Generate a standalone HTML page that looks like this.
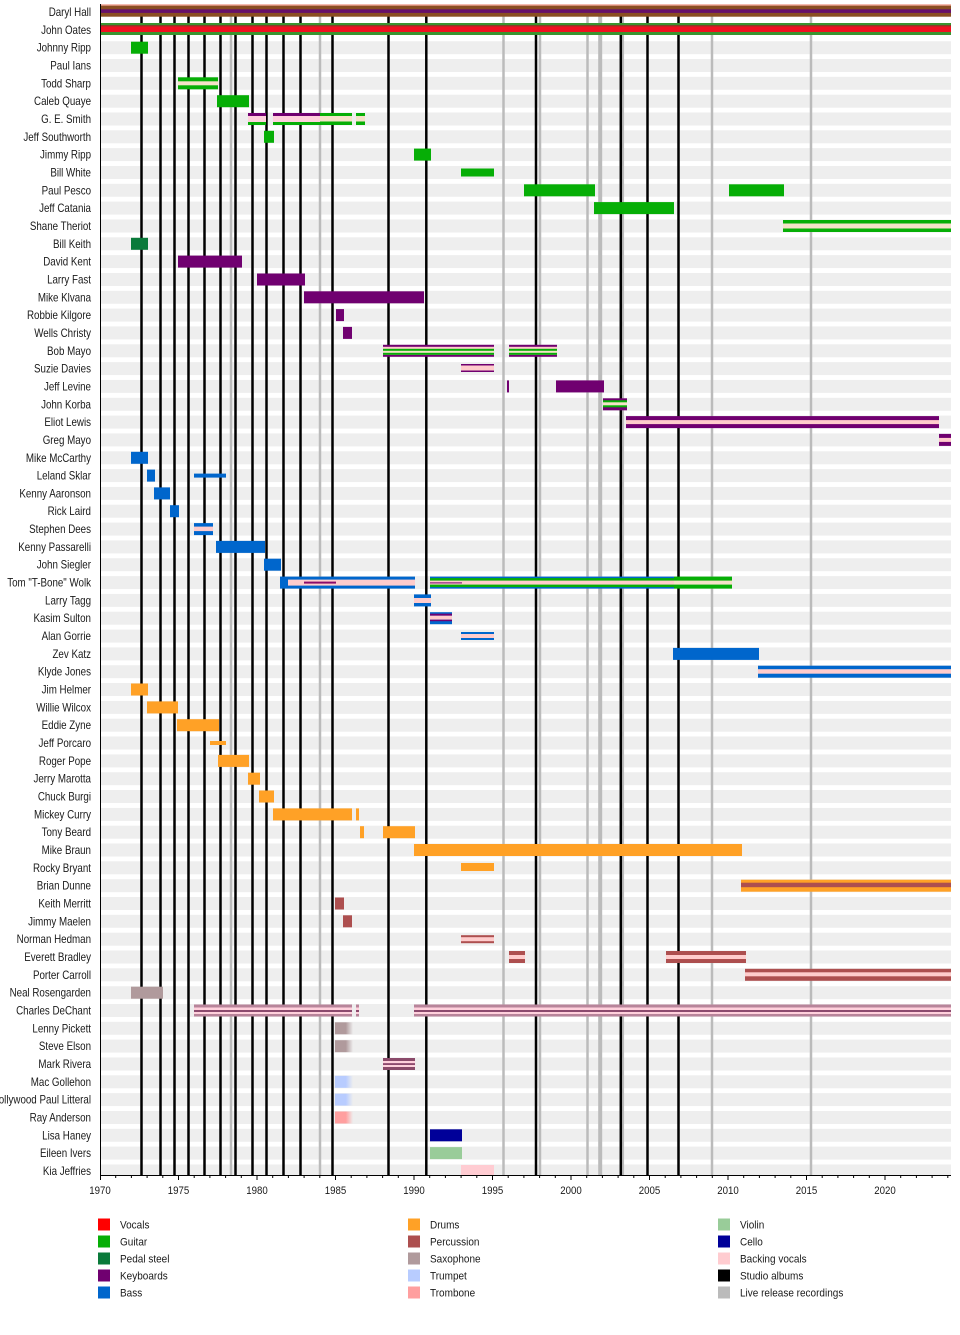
<!DOCTYPE html>
<html><head><meta charset="utf-8"><style>html,body{margin:0;padding:0;background:#fff}svg{display:block}</style></head>
<body>
<svg xmlns="http://www.w3.org/2000/svg" width="960" height="1335" viewBox="0 0 960 1335">
<defs>
<linearGradient id="fS"><stop offset="0" stop-color="#b09a9c"/><stop offset="0.6" stop-color="#b09a9c"/><stop offset="1" stop-color="#b09a9c" stop-opacity="0"/></linearGradient>
<linearGradient id="fT"><stop offset="0" stop-color="#b8ccff"/><stop offset="0.6" stop-color="#b8ccff"/><stop offset="1" stop-color="#b8ccff" stop-opacity="0"/></linearGradient>
<linearGradient id="fTB"><stop offset="0" stop-color="#ff9f9f"/><stop offset="0.6" stop-color="#ff9f9f"/><stop offset="1" stop-color="#ff9f9f" stop-opacity="0"/></linearGradient>
</defs>
<rect width="960" height="1335" fill="#fff"/>
<g fill="#eeeeee">
<rect x="100" y="41.2" width="851" height="13"/><rect x="100" y="59.0" width="851" height="13"/><rect x="100" y="76.8" width="851" height="13"/><rect x="100" y="94.7" width="851" height="13"/><rect x="100" y="112.5" width="851" height="13"/><rect x="100" y="130.3" width="851" height="13"/><rect x="100" y="148.1" width="851" height="13"/><rect x="100" y="166.0" width="851" height="13"/><rect x="100" y="183.8" width="851" height="13"/><rect x="100" y="201.6" width="851" height="13"/><rect x="100" y="219.5" width="851" height="13"/><rect x="100" y="237.3" width="851" height="13"/><rect x="100" y="255.1" width="851" height="13"/><rect x="100" y="273.0" width="851" height="13"/><rect x="100" y="290.8" width="851" height="13"/><rect x="100" y="308.6" width="851" height="13"/><rect x="100" y="326.4" width="851" height="13"/><rect x="100" y="344.3" width="851" height="13"/><rect x="100" y="362.1" width="851" height="13"/><rect x="100" y="379.9" width="851" height="13"/><rect x="100" y="397.8" width="851" height="13"/><rect x="100" y="415.6" width="851" height="13"/><rect x="100" y="433.4" width="851" height="13"/><rect x="100" y="451.3" width="851" height="13"/><rect x="100" y="469.1" width="851" height="13"/><rect x="100" y="486.9" width="851" height="13"/><rect x="100" y="504.7" width="851" height="13"/><rect x="100" y="522.6" width="851" height="13"/><rect x="100" y="540.4" width="851" height="13"/><rect x="100" y="558.2" width="851" height="13"/><rect x="100" y="576.1" width="851" height="13"/><rect x="100" y="593.9" width="851" height="13"/><rect x="100" y="611.7" width="851" height="13"/><rect x="100" y="629.6" width="851" height="13"/><rect x="100" y="647.4" width="851" height="13"/><rect x="100" y="665.2" width="851" height="13"/><rect x="100" y="683.0" width="851" height="13"/><rect x="100" y="700.9" width="851" height="13"/><rect x="100" y="718.7" width="851" height="13"/><rect x="100" y="736.5" width="851" height="13"/><rect x="100" y="754.4" width="851" height="13"/><rect x="100" y="772.2" width="851" height="13"/><rect x="100" y="790.0" width="851" height="13"/><rect x="100" y="807.9" width="851" height="13"/><rect x="100" y="825.7" width="851" height="13"/><rect x="100" y="843.5" width="851" height="13"/><rect x="100" y="861.3" width="851" height="13"/><rect x="100" y="879.2" width="851" height="13"/><rect x="100" y="897.0" width="851" height="13"/><rect x="100" y="914.8" width="851" height="13"/><rect x="100" y="932.7" width="851" height="13"/><rect x="100" y="950.5" width="851" height="13"/><rect x="100" y="968.3" width="851" height="13"/><rect x="100" y="986.2" width="851" height="13"/><rect x="100" y="1004.0" width="851" height="13"/><rect x="100" y="1021.8" width="851" height="13"/><rect x="100" y="1039.6" width="851" height="13"/><rect x="100" y="1057.5" width="851" height="13"/><rect x="100" y="1075.3" width="851" height="13"/><rect x="100" y="1093.1" width="851" height="13"/><rect x="100" y="1111.0" width="851" height="13"/><rect x="100" y="1128.8" width="851" height="13"/><rect x="100" y="1146.6" width="851" height="13"/><rect x="100" y="1164.5" width="851" height="10.5"/>
</g>
<g stroke="#bbbbbb" stroke-width="2.5">
<line x1="231" y1="6" x2="231" y2="1175"/><line x1="320" y1="6" x2="320" y2="1175"/><line x1="503.5" y1="6" x2="503.5" y2="1175"/><line x1="540" y1="6" x2="540" y2="1175"/><line x1="587.5" y1="6" x2="587.5" y2="1175"/><line x1="622.8" y1="6" x2="622.8" y2="1175"/><line x1="712" y1="6" x2="712" y2="1175"/><line x1="811" y1="6" x2="811" y2="1175"/>
<line x1="600.2" y1="6" x2="600.2" y2="1175" stroke-width="4"/>
</g>
<g stroke="#000" stroke-width="2.5">
<line x1="141.5" y1="6" x2="141.5" y2="1175"/><line x1="160.5" y1="6" x2="160.5" y2="1175"/><line x1="174.5" y1="6" x2="174.5" y2="1175"/><line x1="188.5" y1="6" x2="188.5" y2="1175"/><line x1="204.5" y1="6" x2="204.5" y2="1175"/><line x1="220.5" y1="6" x2="220.5" y2="1175"/><line x1="235.5" y1="6" x2="235.5" y2="1175"/><line x1="252.5" y1="6" x2="252.5" y2="1175"/><line x1="266.5" y1="6" x2="266.5" y2="1175"/><line x1="283.5" y1="6" x2="283.5" y2="1175"/><line x1="300.5" y1="6" x2="300.5" y2="1175"/><line x1="332.5" y1="6" x2="332.5" y2="1175"/><line x1="388.5" y1="6" x2="388.5" y2="1175"/><line x1="426.3" y1="6" x2="426.3" y2="1175"/><line x1="536" y1="6" x2="536" y2="1175"/><line x1="620.8" y1="6" x2="620.8" y2="1175"/><line x1="647.5" y1="6" x2="647.5" y2="1175"/><line x1="678.5" y1="6" x2="678.5" y2="1175"/>
</g>
<rect x="100" y="4.3" width="851" height="1.6" fill="#f0a090"/>
<rect x="100" y="5.7" width="851" height="11" fill="#8a4e22"/>
<rect x="100" y="9.3" width="851" height="3.6" fill="#66106a"/>
<rect x="100" y="23" width="851" height="12" fill="#3a9430"/>
<rect x="100" y="25.2" width="851" height="1.2" fill="#9a2a22"/>
<rect x="100" y="26.4" width="851" height="5.6" fill="#f01020"/>
<g fill="#06ae06">
<rect x="131" y="41.7" width="17" height="12"/>
<rect x="178" y="77.3" width="40" height="12"/>
<rect x="217" y="95.2" width="32" height="12"/>
<rect x="264" y="130.8" width="10" height="12"/>
<rect x="414" y="148.6" width="17" height="12"/>
<rect x="461" y="168.5" width="33" height="8"/>
<rect x="524" y="184.3" width="71" height="12"/>
<rect x="729" y="184.3" width="55" height="12"/>
<rect x="594" y="202.1" width="80" height="12"/>
<rect x="783" y="220" width="168" height="12"/>
<rect x="320" y="113" width="32" height="12"/>
<rect x="356" y="113" width="9" height="12"/>
</g>
<g fill="#f5e2c8">
<rect x="178" y="81.3" width="40" height="4"/>
<rect x="320" y="116" width="32" height="5.5"/>
<rect x="356" y="116" width="9" height="5.5"/>
<rect x="783" y="223.5" width="168" height="5"/>
</g>
<rect x="248" y="113" width="18" height="12" fill="#700070"/>
<rect x="273" y="113" width="47" height="12" fill="#700070"/>
<rect x="248" y="116" width="18" height="6" fill="#ffd0dc"/>
<rect x="273" y="116" width="47" height="6" fill="#ffd0dc"/>
<rect x="248" y="122" width="18" height="3" fill="#06ae06"/>
<rect x="273" y="122" width="47" height="3" fill="#06ae06"/>
<rect x="131" y="237.8" width="17" height="12" fill="#0a7a3a"/>
<g fill="#700070">
<rect x="178" y="255.6" width="64" height="12"/>
<rect x="257" y="273.5" width="48" height="12"/>
<rect x="304" y="291.3" width="120" height="12"/>
<rect x="336" y="309.1" width="8" height="12"/>
<rect x="343" y="326.9" width="9" height="12"/>
<rect x="383" y="344.8" width="111" height="12"/>
<rect x="509" y="344.8" width="48" height="12"/>
<rect x="461" y="364" width="33" height="8"/>
<rect x="507" y="380.4" width="2" height="12"/>
<rect x="556" y="380.4" width="48" height="12"/>
<rect x="603" y="398.3" width="24" height="12"/>
<rect x="626" y="416.1" width="313" height="12"/>
<rect x="939" y="433.9" width="12" height="12"/>
</g>
<rect x="383" y="346.8" width="111" height="8" fill="#ffcccc"/>
<rect x="509" y="346.8" width="48" height="8" fill="#ffcccc"/>
<rect x="383" y="348.8" width="111" height="6" fill="#06ae06"/>
<rect x="509" y="348.8" width="48" height="6" fill="#06ae06"/>
<rect x="383" y="350.8" width="111" height="2" fill="#f5e2c8"/>
<rect x="509" y="350.8" width="48" height="2" fill="#f5e2c8"/>
<rect x="461" y="365.5" width="33" height="5" fill="#ffcccc"/>
<rect x="603" y="400.3" width="24" height="7" fill="#06ae06"/>
<rect x="603" y="402.3" width="24" height="3" fill="#f5e2c8"/>
<rect x="626" y="420.1" width="313" height="4" fill="#ffcccc"/>
<rect x="939" y="437.9" width="12" height="4" fill="#ffcccc"/>
<g fill="#0066cc">
<rect x="131" y="451.8" width="17" height="12"/>
<rect x="147" y="469.6" width="8" height="12"/>
<rect x="194" y="473.6" width="32" height="4"/>
<rect x="154" y="487.4" width="16" height="12"/>
<rect x="170" y="505.2" width="9" height="12"/>
<rect x="194" y="523.1" width="19" height="12"/>
<rect x="216" y="540.9" width="49" height="12"/>
<rect x="264" y="558.7" width="17" height="12"/>
<rect x="280" y="576.6" width="135" height="12"/>
<rect x="430" y="576.6" width="244" height="12"/>
<rect x="414" y="594.4" width="17" height="12"/>
<rect x="430" y="612.2" width="22" height="12"/>
<rect x="461" y="632" width="33" height="8"/>
<rect x="673" y="647.9" width="86" height="12"/>
<rect x="758" y="665.7" width="193" height="12"/>
</g>
<rect x="194" y="526.6" width="19" height="4.5" fill="#ffcccc"/>
<rect x="288" y="579.6" width="127" height="6" fill="#ffcccc"/>
<rect x="304" y="581.6" width="32" height="2" fill="#8a0a6a"/>
<rect x="430" y="578.1" width="244" height="9" fill="#06ae06"/>
<rect x="674" y="576.6" width="58" height="12" fill="#06ae06"/>
<rect x="430" y="580.6" width="244" height="4" fill="#ffcccc"/>
<rect x="674" y="580.6" width="58" height="4" fill="#f5e2c8"/>
<rect x="430" y="582.4" width="32" height="1" fill="#700070"/>
<rect x="414" y="598" width="17" height="5" fill="#ffcccc"/>
<rect x="430" y="613.7" width="22" height="2" fill="#700070"/>
<rect x="430" y="615.7" width="22" height="4" fill="#ffcccc"/>
<rect x="430" y="619.7" width="22" height="1.5" fill="#700070"/>
<rect x="461" y="634" width="33" height="4" fill="#ffcccc"/>
<rect x="758" y="669.2" width="193" height="4.5" fill="#ffcccc"/>
<g fill="#ffa126">
<rect x="131" y="683.5" width="17" height="12"/>
<rect x="147" y="701.4" width="31" height="12"/>
<rect x="177" y="719.2" width="42" height="12"/>
<rect x="210" y="741" width="16" height="4"/>
<rect x="218" y="754.9" width="31" height="12"/>
<rect x="248" y="772.7" width="12" height="12"/>
<rect x="259" y="790.5" width="15" height="12"/>
<rect x="273" y="808.4" width="79" height="12"/>
<rect x="356" y="808.4" width="3" height="12"/>
<rect x="360" y="826.2" width="4" height="12"/>
<rect x="383" y="826.2" width="32" height="12"/>
<rect x="414" y="844" width="328" height="12"/>
<rect x="461" y="863" width="33" height="8"/>
<rect x="741" y="879.7" width="210" height="12"/>
</g>
<g fill="#ad4f4f">
<rect x="741" y="882.7" width="210" height="4.5"/>
<rect x="335" y="897.5" width="9" height="12"/>
<rect x="343" y="915.3" width="9" height="12"/>
<rect x="461" y="935.2" width="33" height="8"/>
<rect x="509" y="951" width="16" height="12"/>
<rect x="666" y="951" width="80" height="12"/>
<rect x="745" y="968.8" width="206" height="12"/>
</g>
<g fill="#ffcccc">
<rect x="461" y="937.2" width="33" height="4"/>
<rect x="509" y="955" width="16" height="4"/>
<rect x="666" y="955" width="80" height="4"/>
<rect x="745" y="972.3" width="206" height="4"/>
</g>
<rect x="131" y="986.7" width="32" height="12" fill="#b09a9c"/>
<g fill="#b8849a">
<rect x="194" y="1004.5" width="158" height="12"/>
<rect x="356" y="1004.5" width="3" height="12"/>
<rect x="414" y="1004.5" width="537" height="12"/>
</g>
<g fill="#ffd0dc">
<rect x="194" y="1007.5" width="158" height="6.5"/>
<rect x="356" y="1007.5" width="3" height="6.5"/>
<rect x="414" y="1007.5" width="537" height="6.5"/>
</g>
<g fill="#5a1040">
<rect x="194" y="1010.3" width="158" height="1.4"/>
<rect x="356" y="1010.3" width="3" height="1.4"/>
<rect x="414" y="1010.3" width="537" height="1.4"/>
</g>
<rect x="335" y="1022.3" width="18" height="12" fill="url(#fS)"/>
<rect x="335" y="1040.2" width="18" height="12" fill="url(#fS)"/>
<rect x="383" y="1058" width="32" height="12" fill="#8a4a6a"/>
<rect x="383" y="1061" width="32" height="6" fill="#ffd0dc"/>
<rect x="383" y="1063.4" width="32" height="1.3" fill="#5a1040"/>
<rect x="335" y="1075.8" width="18" height="12" fill="url(#fT)"/>
<rect x="335" y="1093.6" width="18" height="12" fill="url(#fT)"/>
<rect x="335" y="1111.5" width="18" height="12" fill="url(#fTB)"/>
<rect x="430" y="1129.3" width="32" height="12" fill="#000099"/>
<rect x="430" y="1147.1" width="32" height="12" fill="#99cc99"/>
<rect x="461" y="1165" width="33" height="10" fill="#ffccd2"/>
<line x1="100.5" y1="4" x2="100.5" y2="1175.5" stroke="#000" stroke-width="1"/>
<line x1="100" y1="1175.5" x2="951" y2="1175.5" stroke="#000" stroke-width="1"/>
<path stroke="#000" stroke-width="1" fill="none" d="M115.7 1175v3M131.4 1175v3M147.1 1175v3M162.8 1175v3M194.2 1175v3M209.9 1175v3M225.6 1175v3M241.3 1175v3M272.7 1175v3M288.4 1175v3M304.1 1175v3M319.8 1175v3M351.2 1175v3M366.9 1175v3M382.6 1175v3M398.3 1175v3M429.7 1175v3M445.4 1175v3M461.1 1175v3M476.8 1175v3M508.2 1175v3M523.9 1175v3M539.6 1175v3M555.3 1175v3M586.7 1175v3M602.4 1175v3M618.1 1175v3M633.8 1175v3M665.2 1175v3M680.9 1175v3M696.6 1175v3M712.3 1175v3M743.7 1175v3M759.4 1175v3M775.1 1175v3M790.8 1175v3M822.2 1175v3M837.9 1175v3M853.6 1175v3M869.3 1175v3M900.7 1175v3M916.4 1175v3M932.1 1175v3M947.8 1175v3"/>
<path stroke="#000" stroke-width="1" fill="none" d="M100.5 1175v5M178.5 1175v5M257 1175v5M335.5 1175v5M414 1175v5M492.5 1175v5M571 1175v5M649.5 1175v5M728 1175v5M806.5 1175v5M885 1175v5"/>
<g font-family="'Liberation Sans', Arial, sans-serif" font-size="11" fill="#1a1a1a" text-anchor="middle">
<text transform="translate(100 1194) scale(.88 1)">1970</text>
<text transform="translate(178.5 1194) scale(.88 1)">1975</text>
<text transform="translate(257 1194) scale(.88 1)">1980</text>
<text transform="translate(335.5 1194) scale(.88 1)">1985</text>
<text transform="translate(414 1194) scale(.88 1)">1990</text>
<text transform="translate(492.5 1194) scale(.88 1)">1995</text>
<text transform="translate(571 1194) scale(.88 1)">2000</text>
<text transform="translate(649.5 1194) scale(.88 1)">2005</text>
<text transform="translate(728 1194) scale(.88 1)">2010</text>
<text transform="translate(806.5 1194) scale(.88 1)">2015</text>
<text transform="translate(885 1194) scale(.88 1)">2020</text>
</g>
<g font-family="'Liberation Sans', Arial, sans-serif" font-size="11.5" fill="#1a1a1a" text-anchor="end">
<text transform="translate(91 16) scale(.85 1)">Daryl Hall</text>
<text transform="translate(91 33.8) scale(.85 1)">John Oates</text>
<text transform="translate(91 51.7) scale(.85 1)">Johnny Ripp</text>
<text transform="translate(91 69.5) scale(.85 1)">Paul Ians</text>
<text transform="translate(91 87.3) scale(.85 1)">Todd Sharp</text>
<text transform="translate(91 105.2) scale(.85 1)">Caleb Quaye</text>
<text transform="translate(91 123) scale(.85 1)">G. E. Smith</text>
<text transform="translate(91 140.8) scale(.85 1)">Jeff Southworth</text>
<text transform="translate(91 158.6) scale(.85 1)">Jimmy Ripp</text>
<text transform="translate(91 176.5) scale(.85 1)">Bill White</text>
<text transform="translate(91 194.3) scale(.85 1)">Paul Pesco</text>
<text transform="translate(91 212.1) scale(.85 1)">Jeff Catania</text>
<text transform="translate(91 230) scale(.85 1)">Shane Theriot</text>
<text transform="translate(91 247.8) scale(.85 1)">Bill Keith</text>
<text transform="translate(91 265.6) scale(.85 1)">David Kent</text>
<text transform="translate(91 283.5) scale(.85 1)">Larry Fast</text>
<text transform="translate(91 301.3) scale(.85 1)">Mike Klvana</text>
<text transform="translate(91 319.1) scale(.85 1)">Robbie Kilgore</text>
<text transform="translate(91 336.9) scale(.85 1)">Wells Christy</text>
<text transform="translate(91 354.8) scale(.85 1)">Bob Mayo</text>
<text transform="translate(91 372.6) scale(.85 1)">Suzie Davies</text>
<text transform="translate(91 390.4) scale(.85 1)">Jeff Levine</text>
<text transform="translate(91 408.3) scale(.85 1)">John Korba</text>
<text transform="translate(91 426.1) scale(.85 1)">Eliot Lewis</text>
<text transform="translate(91 443.9) scale(.85 1)">Greg Mayo</text>
<text transform="translate(91 461.8) scale(.85 1)">Mike McCarthy</text>
<text transform="translate(91 479.6) scale(.85 1)">Leland Sklar</text>
<text transform="translate(91 497.4) scale(.85 1)">Kenny Aaronson</text>
<text transform="translate(91 515.2) scale(.85 1)">Rick Laird</text>
<text transform="translate(91 533.1) scale(.85 1)">Stephen Dees</text>
<text transform="translate(91 550.9) scale(.85 1)">Kenny Passarelli</text>
<text transform="translate(91 568.7) scale(.85 1)">John Siegler</text>
<text transform="translate(91 586.6) scale(.85 1)">Tom &quot;T-Bone&quot; Wolk</text>
<text transform="translate(91 604.4) scale(.85 1)">Larry Tagg</text>
<text transform="translate(91 622.2) scale(.85 1)">Kasim Sulton</text>
<text transform="translate(91 640.1) scale(.85 1)">Alan Gorrie</text>
<text transform="translate(91 657.9) scale(.85 1)">Zev Katz</text>
<text transform="translate(91 675.7) scale(.85 1)">Klyde Jones</text>
<text transform="translate(91 693.5) scale(.85 1)">Jim Helmer</text>
<text transform="translate(91 711.4) scale(.85 1)">Willie Wilcox</text>
<text transform="translate(91 729.2) scale(.85 1)">Eddie Zyne</text>
<text transform="translate(91 747) scale(.85 1)">Jeff Porcaro</text>
<text transform="translate(91 764.9) scale(.85 1)">Roger Pope</text>
<text transform="translate(91 782.7) scale(.85 1)">Jerry Marotta</text>
<text transform="translate(91 800.5) scale(.85 1)">Chuck Burgi</text>
<text transform="translate(91 818.4) scale(.85 1)">Mickey Curry</text>
<text transform="translate(91 836.2) scale(.85 1)">Tony Beard</text>
<text transform="translate(91 854) scale(.85 1)">Mike Braun</text>
<text transform="translate(91 871.8) scale(.85 1)">Rocky Bryant</text>
<text transform="translate(91 889.7) scale(.85 1)">Brian Dunne</text>
<text transform="translate(91 907.5) scale(.85 1)">Keith Merritt</text>
<text transform="translate(91 925.3) scale(.85 1)">Jimmy Maelen</text>
<text transform="translate(91 943.2) scale(.85 1)">Norman Hedman</text>
<text transform="translate(91 961) scale(.85 1)">Everett Bradley</text>
<text transform="translate(91 978.8) scale(.85 1)">Porter Carroll</text>
<text transform="translate(91 996.7) scale(.85 1)">Neal Rosengarden</text>
<text transform="translate(91 1014.5) scale(.85 1)">Charles DeChant</text>
<text transform="translate(91 1032.3) scale(.85 1)">Lenny Pickett</text>
<text transform="translate(91 1050.2) scale(.85 1)">Steve Elson</text>
<text transform="translate(91 1068) scale(.85 1)">Mark Rivera</text>
<text transform="translate(91 1085.8) scale(.85 1)">Mac Gollehon</text>
<text transform="translate(91 1103.6) scale(.85 1)">Hollywood Paul Litteral</text>
<text transform="translate(91 1121.5) scale(.85 1)">Ray Anderson</text>
<text transform="translate(91 1139.3) scale(.85 1)">Lisa Haney</text>
<text transform="translate(91 1157.1) scale(.85 1)">Eileen Ivers</text>
<text transform="translate(91 1175) scale(.85 1)">Kia Jeffries</text>
</g>
<rect x="98" y="1218.5" width="12" height="12" fill="#ff0000"/>
<rect x="98" y="1235.5" width="12" height="12" fill="#06ae06"/>
<rect x="98" y="1252.5" width="12" height="12" fill="#0a7a3a"/>
<rect x="98" y="1269.5" width="12" height="12" fill="#700070"/>
<rect x="98" y="1286.5" width="12" height="12" fill="#0066cc"/>
<rect x="408" y="1218.5" width="12" height="12" fill="#ffa126"/>
<rect x="408" y="1235.5" width="12" height="12" fill="#ad4f4f"/>
<rect x="408" y="1252.5" width="12" height="12" fill="#b09a9c"/>
<rect x="408" y="1269.5" width="12" height="12" fill="#b8ccff"/>
<rect x="408" y="1286.5" width="12" height="12" fill="#ff9f9f"/>
<rect x="718" y="1218.5" width="12" height="12" fill="#99cc99"/>
<rect x="718" y="1235.5" width="12" height="12" fill="#000099"/>
<rect x="718" y="1252.5" width="12" height="12" fill="#ffccd0"/>
<rect x="718" y="1269.5" width="12" height="12" fill="#000000"/>
<rect x="718" y="1286.5" width="12" height="12" fill="#bbbbbb"/>
<g font-family="'Liberation Sans', Arial, sans-serif" font-size="11.5" fill="#1a1a1a">
<text transform="translate(120 1228.5) scale(.87 1)">Vocals</text>
<text transform="translate(120 1245.5) scale(.87 1)">Guitar</text>
<text transform="translate(120 1262.5) scale(.87 1)">Pedal steel</text>
<text transform="translate(120 1279.5) scale(.87 1)">Keyboards</text>
<text transform="translate(120 1296.5) scale(.87 1)">Bass</text>
<text transform="translate(430 1228.5) scale(.87 1)">Drums</text>
<text transform="translate(430 1245.5) scale(.87 1)">Percussion</text>
<text transform="translate(430 1262.5) scale(.87 1)">Saxophone</text>
<text transform="translate(430 1279.5) scale(.87 1)">Trumpet</text>
<text transform="translate(430 1296.5) scale(.87 1)">Trombone</text>
<text transform="translate(740 1228.5) scale(.87 1)">Violin</text>
<text transform="translate(740 1245.5) scale(.87 1)">Cello</text>
<text transform="translate(740 1262.5) scale(.87 1)">Backing vocals</text>
<text transform="translate(740 1279.5) scale(.87 1)">Studio albums</text>
<text transform="translate(740 1296.5) scale(.87 1)">Live release recordings</text>
</g>
</svg>
</body></html>
